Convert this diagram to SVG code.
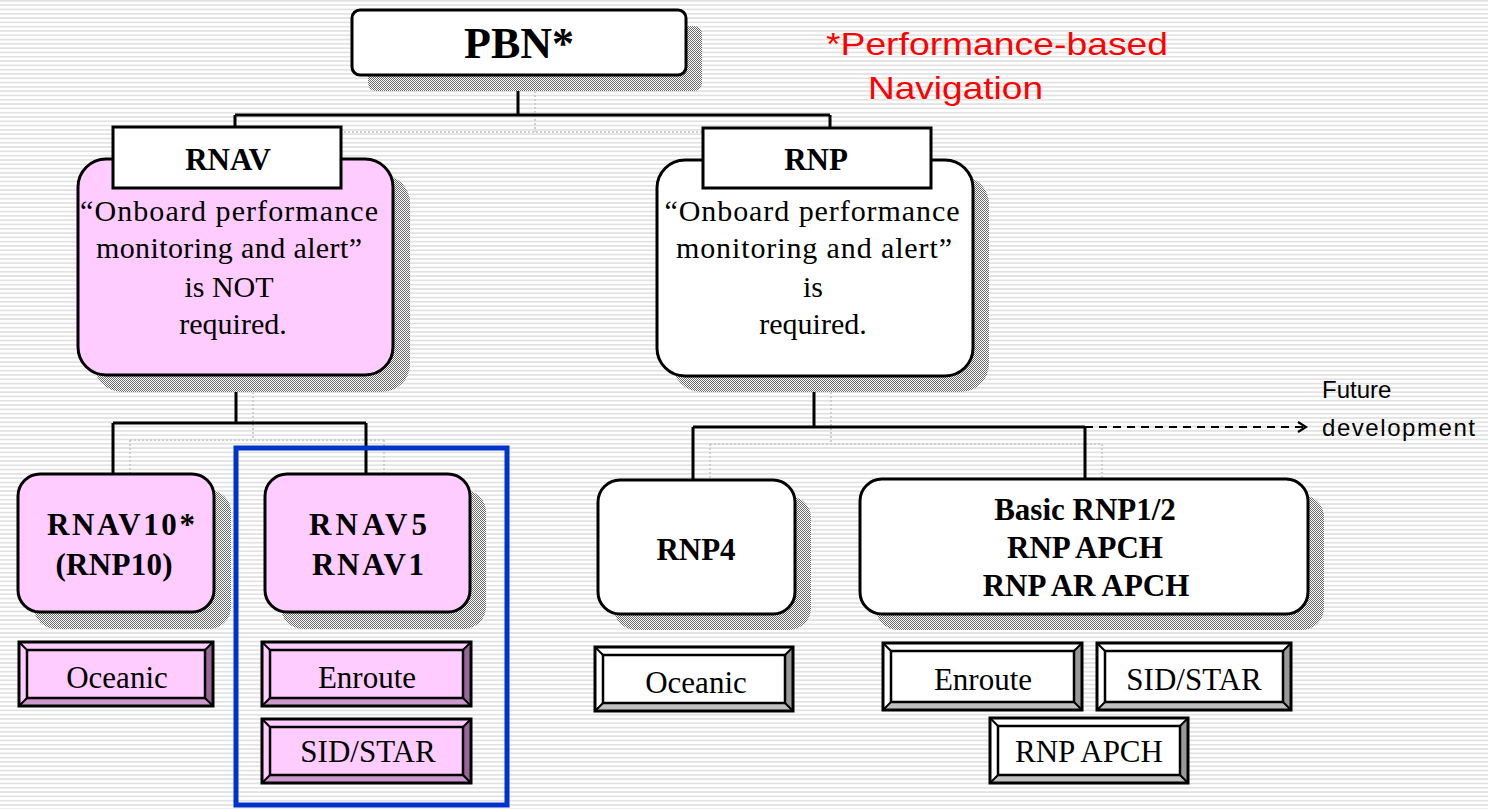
<svg xmlns="http://www.w3.org/2000/svg" width="1488" height="809" viewBox="0 0 1488 809">
<defs>
<pattern id="stripes" x="0" y="0" width="8" height="4.3" patternUnits="userSpaceOnUse">
<rect x="0" y="0" width="8" height="4.3" fill="#ffffff"/>
<rect x="0" y="0" width="8" height="1.7" fill="#e2e2e2"/>
</pattern>
<pattern id="checker" x="0" y="0" width="2" height="2" patternUnits="userSpaceOnUse">
<rect x="0" y="0" width="2" height="2" fill="#ffffff"/>
<rect x="0" y="0" width="1" height="1" fill="#6a6a6a"/>
<rect x="1" y="1" width="1" height="1" fill="#6a6a6a"/>
</pattern>
<marker id="open" viewBox="0 0 12 12" refX="10" refY="6" markerWidth="12" markerHeight="12" markerUnits="userSpaceOnUse" orient="auto">
<path d="M2,1 L10,6 L2,11" fill="none" stroke="#000" stroke-width="2.2"/>
</marker>
</defs>
<style>
.shadow{fill:url(#checker);}
.box{stroke:#000;stroke-width:3;}
.pink{fill:#ffccff;}
.white{fill:#ffffff;}
.conn{fill:none;stroke:#000;stroke-width:3;}
.sconn{fill:none;stroke:#cfcfcf;stroke-width:2;stroke-dasharray:2 2;}
.tb{font-family:"Liberation Serif","Times New Roman",serif;font-weight:bold;fill:#000;text-anchor:middle;font-size:31px;}
.tr{font-family:"Liberation Serif","Times New Roman",serif;fill:#000;text-anchor:middle;font-size:30px;}
.tbtn{font-family:"Liberation Serif","Times New Roman",serif;fill:#000;text-anchor:middle;font-size:31px;}
.ts{font-family:"Liberation Sans",Arial,sans-serif;}
.bo{fill:none;stroke:#000;stroke-width:3;}
.bi{fill:none;stroke:#000;stroke-width:2.5;}
.dpink{fill:#996699;}
.mpink{fill:#cc99cc;}
.dgray{fill:#999999;}
.mgray{fill:#c0c0c0;}
.diag{stroke:#000;stroke-width:2;}
</style>
<rect x="0" y="0" width="1488" height="809" fill="url(#stripes)"/>

<!-- connector shadows -->
<g id="connector-shadows">
<path class="sconn" d="M535,91 V132 M252,132 H847 M252,132 V143 M847,132 V176"/>
<path class="sconn" d="M253,392 V440 M130,440 H384 M130,440 V490 M384,440 V490"/>
<path class="sconn" d="M831,392 V444 M710,444 H1102 M710,444 V496 M1102,444 V496"/>
</g>

<!-- connectors -->
<g id="connectors">
<path class="conn" d="M518,75 V115 M235,115 H830 M235,115 V127 M830,115 V128"/>
<path class="conn" d="M236,375 V423 M113,423 H366 M113,423 V473 M366,423 V473"/>
<path class="conn" d="M814,376 V427 M693,427 H1085 M693,427 V480 M1085,427 V479"/>
<path d="M1085,427 H1306" fill="none" stroke="#000" stroke-width="2" stroke-dasharray="8 6" marker-end="url(#open)"/>
</g>

<g id="pbn">
<rect class="shadow" x="368" y="26" width="334" height="65" rx="8"/>
<rect class="box white" x="352" y="10" width="334" height="65" rx="8"/>
<text class="tb" x="519" y="58" font-size="44" style="font-size:44px">PBN*</text>
</g>

<g id="pbn-note">
<text class="ts" x="826" y="55" font-size="32" fill="#ff0000" textLength="342" lengthAdjust="spacingAndGlyphs">*Performance-based</text>
<text class="ts" x="868" y="99" font-size="32" fill="#ff0000" textLength="175" lengthAdjust="spacingAndGlyphs">Navigation</text>
</g>

<g id="rnav">
<rect class="shadow" x="94" y="175" width="316" height="217" rx="28"/>
<rect class="box pink" x="78" y="159" width="315" height="216" rx="28"/>
<rect class="box white" x="113" y="127" width="228" height="61"/>
<text class="tb" x="228" y="170">RNAV</text>
<text class="tr" x="229" y="221" textLength="298" lengthAdjust="spacing">“Onboard performance</text>
<text class="tr" x="229" y="258" textLength="266" lengthAdjust="spacing">monitoring and alert”</text>
<text class="tr" x="229" y="297">is NOT</text>
<text class="tr" x="233" y="334">required.</text>
</g>

<g id="rnp">
<rect class="shadow" x="673" y="176" width="316" height="216" rx="28"/>
<rect class="box white" x="657" y="160" width="316" height="216" rx="28"/>
<rect class="box white" x="703" y="128" width="228" height="60"/>
<text class="tb" x="816" y="170">RNP</text>
<text class="tr" x="812" y="221" textLength="295" lengthAdjust="spacing">“Onboard performance</text>
<text class="tr" x="814" y="258" textLength="276" lengthAdjust="spacing">monitoring and alert”</text>
<text class="tr" x="813" y="297">is</text>
<text class="tr" x="813" y="334">required.</text>
</g>

<g id="rnav10">
<rect class="shadow" x="34" y="490" width="197" height="139" rx="22"/>
<rect class="box pink" x="18" y="474" width="196" height="138" rx="22"/>
<text class="tb" x="121" y="535" textLength="148" lengthAdjust="spacing">RNAV10*</text>
<text class="tb" x="114" y="575" textLength="117" lengthAdjust="spacing">(RNP10)</text>
</g>

<g id="rnav5">
<rect class="shadow" x="281" y="490" width="205" height="139" rx="22"/>
<rect class="box pink" x="265" y="474" width="205" height="138" rx="22"/>
<text class="tb" x="368" y="535" textLength="118" lengthAdjust="spacing">RNAV5</text>
<text class="tb" x="368" y="575" textLength="112" lengthAdjust="spacing">RNAV1</text>
</g>

<g id="rnp4">
<rect class="shadow" x="614" y="496" width="197" height="134" rx="22"/>
<rect class="box white" x="598" y="480" width="197" height="134" rx="22"/>
<text class="tb" x="696" y="560">RNP4</text>
</g>

<g id="basic-rnp">
<rect class="shadow" x="876" y="495" width="448" height="135" rx="22"/>
<rect class="box white" x="860" y="479" width="448" height="135" rx="22"/>
<text class="tb" x="1085" y="520">Basic RNP1/2</text>
<text class="tb" x="1085" y="558">RNP APCH</text>
<text class="tb" x="1086" y="596">RNP AR APCH</text>
</g>

<g id="future">
<text class="ts" x="1322" y="398" font-size="24" fill="#000">Future</text>
<text class="ts" x="1322" y="436" font-size="24" fill="#000" textLength="153" lengthAdjust="spacing">development</text>
</g>

<!-- bevel buttons -->
<g id="btn-oceanic-rnav">
<rect class="pink" x="19" y="642" width="194" height="64"/>
<polygon class="dpink" points="213,642 213,706 205,698 205,650"/>
<polygon class="mpink" points="19,706 213,706 205,698 27,698"/>
<rect class="bi" x="27" y="650" width="178" height="48"/>
<rect class="bo" x="19" y="642" width="194" height="64"/>
<path class="diag" d="M19,642 L27,650 M213,642 L205,650 M19,706 L27,698 M213,706 L205,698"/>
<text class="tbtn" x="117" y="688">Oceanic</text>
</g>

<g id="btn-enroute-rnav">
<rect class="pink" x="262" y="642" width="209" height="64"/>
<polygon class="dpink" points="471,642 471,706 463,698 463,650"/>
<polygon class="mpink" points="262,706 471,706 463,698 270,698"/>
<rect class="bi" x="270" y="650" width="193" height="48"/>
<rect class="bo" x="262" y="642" width="209" height="64"/>
<path class="diag" d="M262,642 L270,650 M471,642 L463,650 M262,706 L270,698 M471,706 L463,698"/>
<text class="tbtn" x="367" y="688">Enroute</text>
</g>

<g id="btn-sidstar-rnav">
<rect class="pink" x="262" y="719" width="209" height="64"/>
<polygon class="dpink" points="471,719 471,783 463,775 463,727"/>
<polygon class="mpink" points="262,783 471,783 463,775 270,775"/>
<rect class="bi" x="270" y="727" width="193" height="48"/>
<rect class="bo" x="262" y="719" width="209" height="64"/>
<path class="diag" d="M262,719 L270,727 M471,719 L463,727 M262,783 L270,775 M471,783 L463,775"/>
<text class="tbtn" x="368" y="762">SID/STAR</text>
</g>

<g id="btn-oceanic-rnp">
<rect class="white" x="595" y="647" width="198" height="64"/>
<polygon class="dgray" points="793,647 793,711 785,703 785,655"/>
<polygon class="mgray" points="595,711 793,711 785,703 603,703"/>
<rect class="bi" x="603" y="655" width="182" height="48"/>
<rect class="bo" x="595" y="647" width="198" height="64"/>
<path class="diag" d="M595,647 L603,655 M793,647 L785,655 M595,711 L603,703 M793,711 L785,703"/>
<text class="tbtn" x="696" y="693">Oceanic</text>
</g>

<g id="btn-enroute-rnp">
<rect class="white" x="883" y="643" width="199" height="67"/>
<polygon class="dgray" points="1082,643 1082,710 1074,702 1074,651"/>
<polygon class="mgray" points="883,710 1082,710 1074,702 891,702"/>
<rect class="bi" x="891" y="651" width="183" height="51"/>
<rect class="bo" x="883" y="643" width="199" height="67"/>
<path class="diag" d="M883,643 L891,651 M1082,643 L1074,651 M883,710 L891,702 M1082,710 L1074,702"/>
<text class="tbtn" x="983" y="690">Enroute</text>
</g>

<g id="btn-sidstar-rnp">
<rect class="white" x="1097" y="643" width="194" height="67"/>
<polygon class="dgray" points="1291,643 1291,710 1283,702 1283,651"/>
<polygon class="mgray" points="1097,710 1291,710 1283,702 1105,702"/>
<rect class="bi" x="1105" y="651" width="178" height="51"/>
<rect class="bo" x="1097" y="643" width="194" height="67"/>
<path class="diag" d="M1097,643 L1105,651 M1291,643 L1283,651 M1097,710 L1105,702 M1291,710 L1283,702"/>
<text class="tbtn" x="1194" y="690">SID/STAR</text>
</g>

<g id="btn-rnpapch">
<rect class="white" x="990" y="718" width="198" height="65"/>
<polygon class="dgray" points="1188,718 1188,783 1180,775 1180,726"/>
<polygon class="mgray" points="990,783 1188,783 1180,775 998,775"/>
<rect class="bi" x="998" y="726" width="182" height="49"/>
<rect class="bo" x="990" y="718" width="198" height="65"/>
<path class="diag" d="M990,718 L998,726 M1188,718 L1180,726 M990,783 L998,775 M1188,783 L1180,775"/>
<text class="tbtn" x="1089" y="762">RNP APCH</text>
</g>

<g id="highlight">
<rect x="236" y="448" width="271" height="357" fill="none" stroke="#0033cc" stroke-width="5"/>
</g>
</svg>
